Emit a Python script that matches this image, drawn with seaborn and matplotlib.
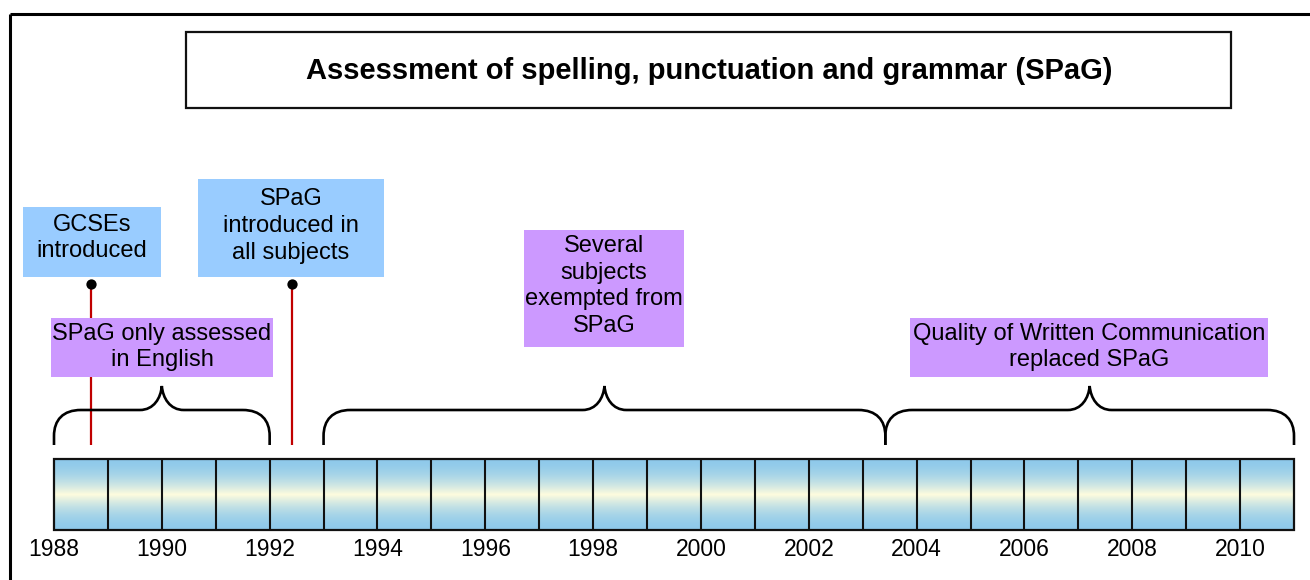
import numpy as np
import matplotlib
matplotlib.use("Agg")
import matplotlib.pyplot as plt
import seaborn as sns
from matplotlib.path import Path
from matplotlib.patches import PathPatch, Rectangle

# ---------------- data ----------------
years = list(range(1988, 2011))              # one cell per year
tick_years = list(range(1988, 2011, 2))      # labelled years
title = "Assessment of spelling, punctuation and grammar (SPaG)"

event_labels = ["GCSEs\nintroduced", "SPaG\nintroduced in\nall subjects"]
event_years = [1988.69, 1992.42]

period_labels = ["SPaG only assessed\nin English",
                 "Several\nsubjects\nexempted from\nSPaG",
                 "Quality of Written Communication\nreplaced SPaG"]
period_start = [1988, 1993, 2003.42]
period_end = [1992, 2003.42, 2011]

# ---------------- style ----------------
sns.set_theme(style="white")
plt.rcParams['font.family'] = ['Liberation Sans', 'DejaVu Sans']
plt.rcParams['text.color'] = 'black'

W, H = 1310, 580
fig = plt.figure(figsize=(W / 100, H / 100), dpi=100)
ax = fig.add_axes([0, 0, 1, 1])
ax.set_axis_off()

# axis: x in years, y in pixel rows
X0_PX = 54.0
PX_PER_YEAR = (1294.0 - 54.0) / len(years)
xlim = (years[0] - X0_PX / PX_PER_YEAR, years[0] + (W - X0_PX) / PX_PER_YEAR)


def px(dx):
    """pixel offset -> year units"""
    return dx / PX_PER_YEAR


def xpx(p):
    """absolute pixel column -> year coordinate"""
    return xlim[0] + p / PX_PER_YEAR


BLUE = "#99CCFF"
PURPLE = "#CC99FF"
RED = "#C00000"

# outer frame (runs off the right and bottom edges)
ax.plot([xpx(10), xpx(W + 50)], [14, 14], color="black", lw=2.2, solid_capstyle="butt")
ax.plot([xpx(10), xpx(10)], [14, H + 50], color="black", lw=2.2, solid_capstyle="butt")

# title box
ax.add_patch(Rectangle((xpx(186), 32), px(1231 - 186), 76, facecolor="white",
                       edgecolor="#111111", lw=1.6, zorder=2))
ax.text(xpx(709), 71, title, ha="center", va="center", fontsize=21,
        fontweight="bold", color="black", zorder=3)

# gradient timeline bar
t = np.linspace(0, 1, 200)
w = (1 - np.abs(2 * t - 1)) ** 1.8
top = np.array([0.56, 0.79, 0.92])
mid = np.array([1.0, 0.99, 0.87])
grad = (top[None, :] * (1 - w[:, None]) + mid[None, :] * w[:, None])[:, None, :]
bar_top, bar_bot = 459, 530
ax.imshow(grad, extent=[years[0], years[-1] + 1, bar_bot, bar_top], aspect="auto",
          interpolation="bilinear", zorder=1)
ax.vlines(years[1:], bar_top, bar_bot, color="#111111", lw=1.5, zorder=2)
ax.add_patch(Rectangle((years[0], bar_top), years[-1] + 1 - years[0], bar_bot - bar_top,
                       fill=False, edgecolor="#111111", lw=1.6, zorder=3))

for y in tick_years:
    ax.text(y, 549, str(y), ha="center", va="center", fontsize=16.5, color="black")


# braces over periods
def brace(x0, x1):
    xm = (x0 + x1) / 2
    yb, yh, yt = 445, 410, 386
    verts = [(x0, yb), (x0, 436),
             (x0, 420), (x0 + px(9), yh), (x0 + px(27), yh),
             (xm - px(22), yh),
             (xm - px(8), yh), (xm - px(1), 398), (xm, yt),
             (xm + px(1), 398), (xm + px(8), yh), (xm + px(22), yh),
             (x1 - px(27), yh),
             (x1 - px(9), yh), (x1, 420), (x1, 436),
             (x1, yb)]
    codes = [Path.MOVETO, Path.LINETO,
             Path.CURVE4, Path.CURVE4, Path.CURVE4,
             Path.LINETO,
             Path.CURVE4, Path.CURVE4, Path.CURVE4,
             Path.CURVE4, Path.CURVE4, Path.CURVE4,
             Path.LINETO,
             Path.CURVE4, Path.CURVE4, Path.CURVE4,
             Path.LINETO]
    ax.add_patch(PathPatch(Path(verts, codes), fill=False, edgecolor="black",
                           lw=1.9, capstyle="butt", joinstyle="miter", zorder=3))


for s, e in zip(period_start, period_end):
    brace(s, e)

# event markers
ax.vlines(event_years, 284, 445, color=RED, lw=1.6, zorder=2)
sns.scatterplot(x=event_years, y=[284] * len(event_years), color="black", s=55,
                edgecolor="black", linewidth=0, ax=ax, zorder=4, legend=False)

# event boxes (pixel layout)
event_boxes = [(23, 207, 161, 277, 92, 238), (198, 179, 384, 277, 291, 226)]
for lab, (l, tp, r, b, cx, cy) in zip(event_labels, event_boxes):
    ax.add_patch(Rectangle((xpx(l), tp), px(r - l), b - tp, facecolor=BLUE,
                           edgecolor="none", zorder=2))
    ax.text(xpx(cx), cy, lab, ha="center", va="center", fontsize=17,
            linespacing=1.27, color="black", zorder=3)

period_boxes = [(51, 318, 273, 377, 162, 347), (524, 230, 684, 347, 604, 286),
                (910, 318, 1268, 377, 1089, 347)]
for lab, (l, tp, r, b, cx, cy) in zip(period_labels, period_boxes):
    ax.add_patch(Rectangle((xpx(l), tp), px(r - l), b - tp, facecolor=PURPLE,
                           edgecolor="none", zorder=2))
    ax.text(xpx(cx), cy, lab, ha="center", va="center", fontsize=17,
            linespacing=1.27, color="black", zorder=3)

ax.set_xlim(*xlim)
ax.set_ylim(H, 0)

fig.savefig("out.png", dpi=100, facecolor="white")
